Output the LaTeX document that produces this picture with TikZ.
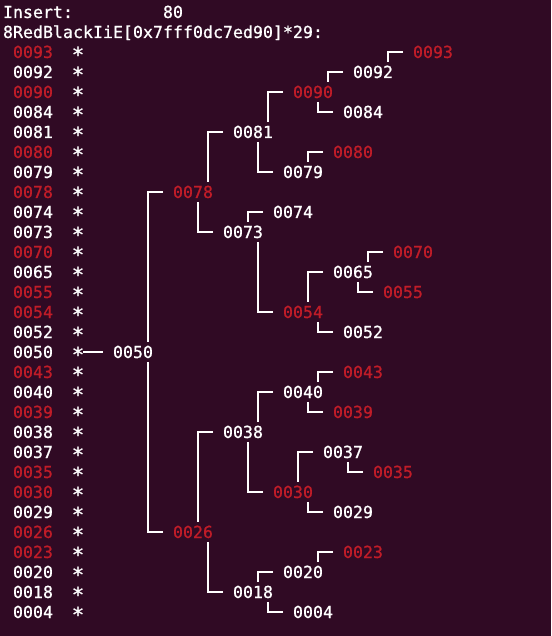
\documentclass[tikz,border=0pt]{standalone}
\usepackage{fontspec}
\newfontfamily\termfont{DejaVu Sans Mono}[FakeBold=0.8]
\usetikzlibrary{calc}
\definecolor{bg}{HTML}{300A24}
\definecolor{fg}{HTML}{FFFFFF}
\definecolor{rd}{HTML}{C01C28}
\tikzset{
  txt/.style={anchor=west, inner sep=0pt, outer sep=0pt, minimum height=20pt,
    text height=16pt, text depth=4pt,
    font=\termfont\fontsize{16.61}{20}\selectfont, text=fg},
  starnode/.style={txt, minimum width=10pt},
  conn/.style={draw=fg, line width=2pt}
}
\begin{document}
\begin{tikzpicture}[x=1pt,y=-1pt]
\fill[bg] (0,0) rectangle (551,636);
\useasboundingbox (0,0) rectangle (551,636);
% row centre y = 12+20r ; column left x = 3+10c
\node[txt] (hdrA) at (3,12) {Insert:};
\node[txt] (hdrB) at (163,12) {80};
\node[txt] (hdrC) at (3,32) {8RedBlackIiE[0x7fff0dc7ed90]*29:};
% list column
\foreach \r/\k/\s in {2/93/rd,3/92/fg,4/90/rd,5/84/fg,6/81/fg,7/80/rd,8/79/fg,9/78/rd,
  10/74/fg,11/73/fg,12/70/rd,13/65/fg,14/55/rd,15/54/rd,16/52/fg,17/50/fg,18/43/rd,
  19/40/fg,20/39/rd,21/38/fg,22/37/fg,23/35/rd,24/30/rd,25/29/fg,26/26/rd,27/23/rd,
  28/20/fg,29/18/fg,30/04/fg}{
  \node[txt,text=\s] (l\k) at (13,{12+20*\r}) {00\k};
  \node[starnode] (s\k) at (73,{12+20*\r}) {\raisebox{-4pt}{\makebox[10pt]{\scalebox{1.25}{*}}}};
}
% tree nodes: col/row/key/colour
\foreach \c/\r/\k/\s in {11/17/50/fg,17/9/78/rd,17/26/26/rd,23/6/81/fg,22/11/73/fg,
  29/4/90/rd,28/8/79/fg,35/3/92/fg,34/5/84/fg,41/2/93/rd,33/7/80/rd,27/10/74/fg,
  28/15/54/rd,33/13/65/fg,34/16/52/fg,39/12/70/rd,38/14/55/rd,22/21/38/fg,23/29/18/fg,
  28/19/40/fg,27/24/30/rd,34/18/43/rd,33/20/39/rd,32/22/37/fg,33/25/29/fg,37/23/35/rd,
  28/28/20/fg,29/30/04/fg,34/27/23/rd}{
  \node[txt,text=\s] (n\k) at ({3+10*\c},{12+20*\r}) {00\k};
}
% root link
\draw[conn] (s50.east) -- ([xshift=-10pt]n50.west);
% child/parent/anchor on parent
\foreach \ch/\p/\a in {78/50/north,26/50/south,81/78/north,73/78/south,90/81/north,
  79/81/south,92/90/north,84/90/south,93/92/north,80/79/north,74/73/north,54/73/south,
  65/54/north,52/54/south,70/65/north,55/65/south,38/26/north,18/26/south,40/38/north,
  30/38/south,43/40/north,39/40/south,37/30/north,29/30/south,35/37/south,20/18/north,
  04/18/south,23/20/north}{
  \coordinate (b\ch) at ([xshift=-25pt]n\ch.west);
  \draw[conn] ([xshift=-10pt]n\ch.west) -- (b\ch) -- (b\ch |- n\p.\a);
}
\end{tikzpicture}
\end{document}
